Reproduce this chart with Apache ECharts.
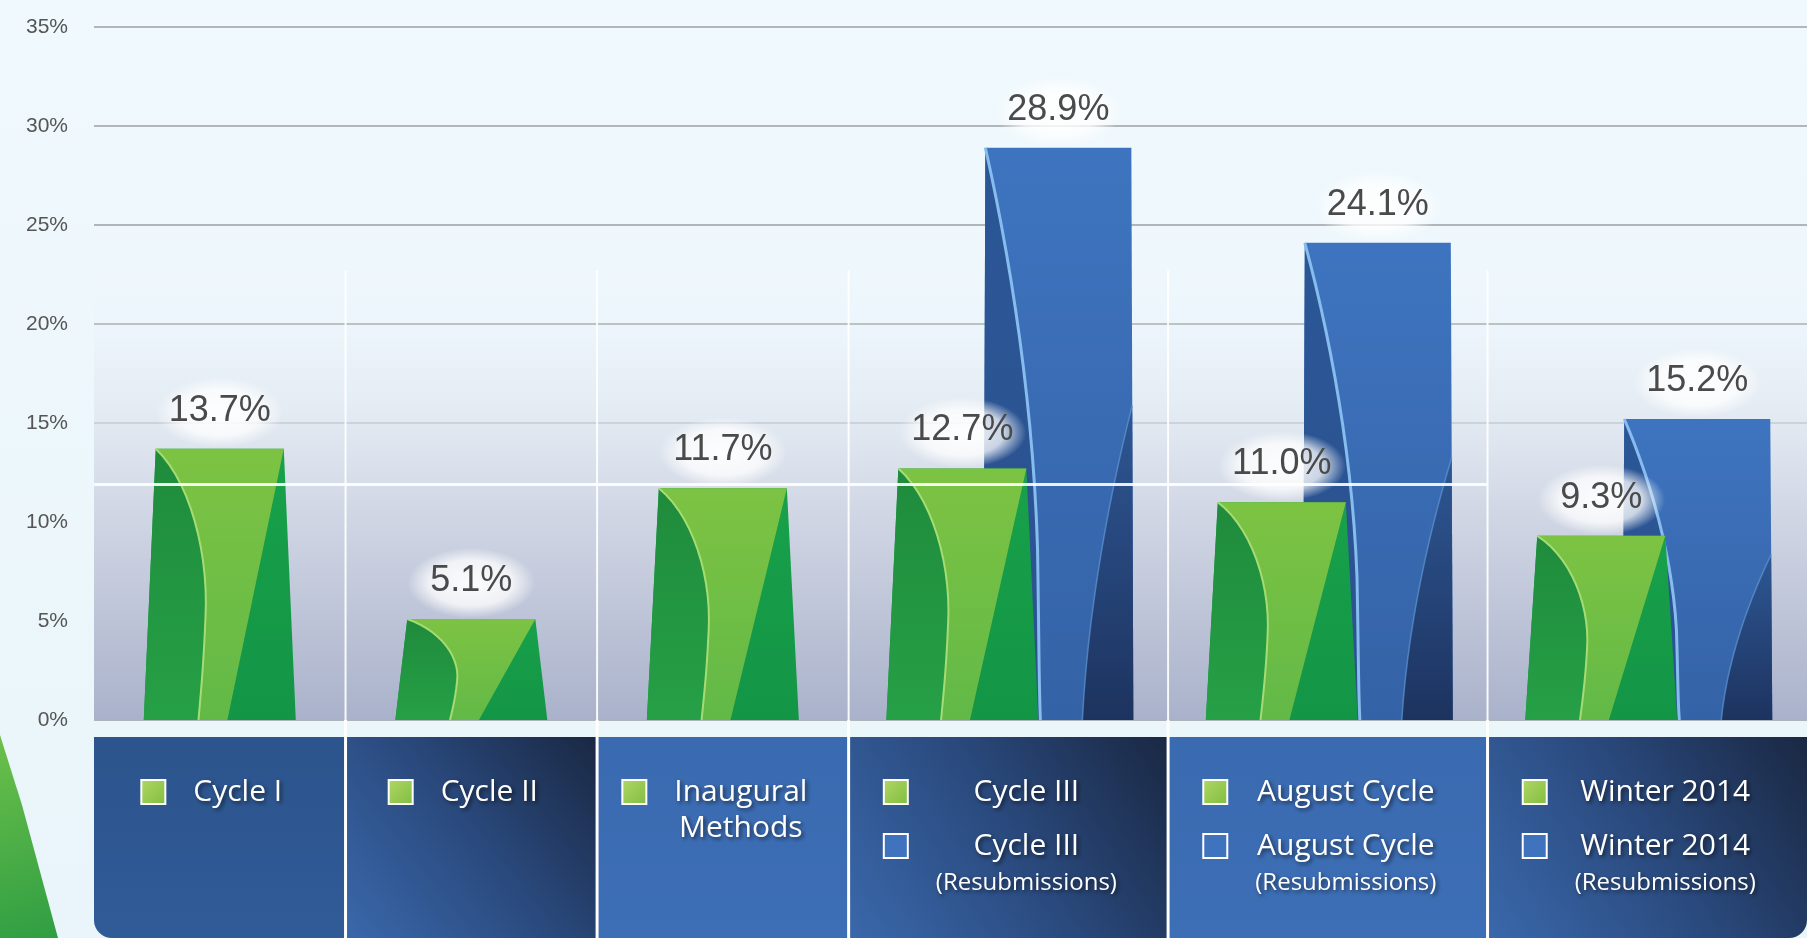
<!DOCTYPE html>
<html lang="en">
<head>
    <meta charset="UTF-8">
    <title>Approval rates by cycle</title>
    <script src="https://cdn.jsdelivr.net/npm/echarts@6/dist/echarts.min.js"></script>
    <style>
        html, body { margin: 0; padding: 0; background: #eef8fc; }
        #main { width: 1807px; height: 938px; }
    </style>
</head>
<body>
<div id="main"></div>
<script type="text/javascript">
    // data
    const categories = ['Cycle I', 'Cycle II', 'Inaugural\nMethods', 'Cycle III', 'August Cycle', 'Winter 2014'];
    const initialRates = [13.7, 5.1, 11.7, 12.7, 11.0, 9.3];
    const resubRates = [null, null, null, 28.9, 24.1, 15.2];
    const resubNote = '(Resubmissions)';
    const yMax = 35;
    const yStep = 5;

    // groups with a resubmission bar get a wider column
    let groupW = categories.map((c, i) => resubRates[i] == null ? 1 : 1.27);
    let groupStart = [];
    let acc = 0;
    groupW.forEach((w) => { groupStart.push(acc); acc += w; });
    let totalW = acc;
    let lastIdx = categories.length - 1;

    let mainFont = '30px "Open Sans", sans-serif';
    let smallFont = '24px "Open Sans", sans-serif';
    let labelFont = '36px "Liberation Sans", Arial, sans-serif';

    let measureCtx = document.createElement('canvas').getContext('2d');
    function textWidth(t, font) {
        measureCtx.font = font;
        return measureCtx.measureText(t).width;
    }

    function lin(x, y, x2, y2, stops) {
        return new echarts.graphic.LinearGradient(x, y, x2, y2, stops.map((c, k) => ({offset: k / (stops.length - 1), color: c})));
    }

    // sample a cubic bezier in (u, v) bar space
    function bez(p0, p1, p2, p3, n) {
        let pts = [];
        for (let k = 0; k <= n; k++) {
            let t = k / n, s = 1 - t;
            pts.push([
                s * s * s * p0[0] + 3 * s * s * t * p1[0] + 3 * s * t * t * p2[0] + t * t * t * p3[0],
                s * s * s * p0[1] + 3 * s * s * t * p1[1] + 3 * s * t * t * p2[1] + t * t * t * p3[1]
            ]);
        }
        return pts;
    }

    // maps (u, v) inside a trapezoid bar to pixels
    function mapper(cx, top, base, wt, wb) {
        let h = base - top;
        return function (p) {
            let w = wt + (wb - wt) * p[1];
            return [cx - w / 2 + p[0] * w, top + p[1] * h];
        };
    }

    let curveGreen = bez([0, 0], [0.28, 0.12], [0.42, 0.38], [0.40, 0.62], 14)
        .concat(bez([0.40, 0.62], [0.39, 0.8], [0.37, 0.92], [0.36, 1], 8).slice(1));
    let curveBlue = bez([0, 0], [0.18, 0.2], [0.33, 0.45], [0.36, 0.7], 14)
        .concat(bez([0.36, 0.7], [0.37, 0.85], [0.37, 0.93], [0.38, 1], 8).slice(1));
    let curveNavy = bez([1, 0.45], [0.85, 0.6], [0.7, 0.8], [0.66, 1], 14);

    function groupCenter(i, api) {
        return api.coord([groupStart[i] + groupW[i] / 2, 0])[0];
    }

    function valueLabel(cx, top, v) {
        return [
            {
                type: 'circle', x: cx, y: top - 36, scaleY: 0.55,
                shape: {cx: 0, cy: 0, r: 64},
                style: {
                    fill: new echarts.graphic.RadialGradient(0.5, 0.5, 0.5, [
                        {offset: 0, color: 'rgba(255,255,255,0.95)'},
                        {offset: 0.65, color: 'rgba(255,255,255,0.75)'},
                        {offset: 1, color: 'rgba(255,255,255,0)'}
                    ])
                }
            },
            {
                type: 'text',
                style: {
                    text: v.toFixed(1) + '%', x: cx, y: top - 38,
                    textAlign: 'center', textVerticalAlign: 'middle',
                    font: labelFont, fill: '#4a4a4a'
                }
            }
        ];
    }

    function renderGreen(params, api) {
        let i = api.value(0);
        let v = api.value(1);
        let cx = groupCenter(i, api) + (resubRates[i] == null ? 0 : -46);
        let top = api.coord([0, v])[1];
        let base = api.coord([0, 0])[1];
        let m = mapper(cx, top, base, 128, 152);
        let leftDark = [[0, 1]].concat(curveGreen);
        let light = [[1, 0], [0.55, 1]].concat(curveGreen.slice().reverse());
        let children = [
            {type: 'polygon', shape: {points: [[0, 0], [1, 0], [1, 1], [0, 1]].map(m)}, style: {fill: lin(0, 0, 0, 1, ['#18a14a', '#139546'])}},
            {type: 'polygon', shape: {points: leftDark.map(m)}, style: {fill: lin(0, 0, 0, 1, ['#1f8b3c', '#26a046'])}},
            {type: 'polygon', shape: {points: light.map(m)}, style: {fill: lin(0, 0, 0, 1, ['#7dc343', '#62b947'])}},
            {type: 'polyline', shape: {points: curveGreen.map(m)}, style: {stroke: '#a6dc73', lineWidth: 2, fill: null}}
        ];
        return {type: 'group', children: children.concat(valueLabel(cx, top, v))};
    }

    function renderBlue(params, api) {
        let i = api.value(0);
        let v = api.value(1);
        let cx = groupCenter(i, api) + 50;
        let top = api.coord([0, v])[1];
        let base = api.coord([0, 0])[1];
        let m = mapper(cx, top, base, 146, 150);
        let leftDark = [[0, 1]].concat(curveBlue);
        let navy = curveNavy.concat([[1, 1]]);
        let children = [
            {type: 'polygon', shape: {points: [[0, 0], [1, 0], [1, 1], [0, 1]].map(m)}, style: {fill: lin(0, 0, 0, 1, ['#3e74bf', '#3462a6'])}},
            {type: 'polygon', shape: {points: leftDark.map(m)}, style: {fill: lin(0, 0, 0, 1, ['#2b5796', '#2c5190'])}},
            {type: 'polygon', shape: {points: navy.map(m)}, style: {fill: lin(0, 0, 0, 1, ['#2e5794', '#1d335f'])}},
            {type: 'polyline', shape: {points: curveBlue.map(m)}, style: {stroke: '#86bcee', lineWidth: 3, fill: null}},
            {type: 'polyline', shape: {points: curveNavy.map(m)}, style: {stroke: '#5f95d2', lineWidth: 1.5, fill: null, opacity: 0.7}}
        ];
        return {type: 'group', children: children.concat(valueLabel(cx, top, v))};
    }

    function legendSquare(x, y, green) {
        return {
            type: 'rect', shape: {x: x, y: y - 12, width: 24, height: 24},
            style: {
                fill: green ? lin(0, 0, 1, 1, ['#b2d766', '#7fbd3f']) : '#3f73be',
                stroke: '#ffffff', lineWidth: 2
            }
        };
    }

    function legendText(t, x, y, font) {
        return {
            type: 'text',
            style: {
                text: t, x: x, y: y, textAlign: 'center', textVerticalAlign: 'middle',
                font: font, fill: '#ffffff',
                textShadowColor: 'rgba(0,0,0,0.6)', textShadowBlur: 4, textShadowOffsetX: 2, textShadowOffsetY: 2
            }
        };
    }

    // column shading, bottom panels, separators and the legend texts
    function renderPanel(params, api) {
        let i = api.value(0);
        let x0 = api.coord([groupStart[i], 0])[0];
        let x1 = api.coord([groupStart[i] + groupW[i], 0])[0];
        let base = api.coord([0, 0])[1];
        let shadeTop = api.coord([0, 22.4])[1];
        let H = api.getHeight();
        let right = i === lastIdx ? api.getWidth() : x1;
        let panelTop = base + 17;
        let panelFill;
        if (i % 2 === 1) {
            panelFill = lin(1, 0, 0, 1, ['#1a2843', '#2a4a7e', '#3a68ab']);
        } else if (i === 0) {
            panelFill = lin(0, 0, 0, 1, ['#2c548d', '#305b97']);
        } else {
            panelFill = lin(0, 0, 0, 1, ['#3a6ab0', '#3d6fb6']);
        }
        let children = [
            {type: 'rect', shape: {x: x0, y: shadeTop, width: x1 - x0, height: base - shadeTop},
                style: {fill: lin(0, 0, 0, 1, ['rgba(236,242,249,0)', '#d3d9e6', '#aab2cb'])}},
            {type: 'rect', shape: {x: x0, y: panelTop, width: right - x0, height: H - panelTop,
                    r: [0, 0, i === lastIdx ? 18 : 0, i === 0 ? 18 : 0]},
                style: {fill: panelFill}}
        ];
        if (i > 0) {
            children.push({type: 'line', shape: {x1: x0, y1: shadeTop - 6, x2: x0, y2: base}, style: {stroke: 'rgba(255,255,255,0.9)', lineWidth: 2}});
            children.push({type: 'line', shape: {x1: x0, y1: base, x2: x0, y2: H}, style: {stroke: '#ffffff', lineWidth: 3}});
        }

        let lines = categories[i].split('\n');
        let hasResub = resubRates[i] != null;
        let tw = Math.max.apply(null, lines.map((t) => textWidth(t, mainFont)));
        if (hasResub) tw = Math.max(tw, textWidth(resubNote, smallFont));
        let blockW = 24 + 28 + tw;
        let blockLeft = (x0 + x1) / 2 - blockW / 2 - 8;
        let tx = blockLeft + 52 + tw / 2;
        let row1 = base + 72;
        children.push(legendSquare(blockLeft, row1, true));
        lines.forEach((t, k) => children.push(legendText(t, tx, row1 + k * 36, mainFont)));
        if (hasResub) {
            let row2 = base + 126;
            children.push(legendSquare(blockLeft, row2, false));
            children.push(legendText(categories[i], tx, row2, mainFont));
            children.push(legendText(resubNote, tx, base + 163, smallFont));
        }
        return {type: 'group', children: children};
    }

    let myChart = echarts.init(document.getElementById('main'));
    let option = {
        animation: false,
        backgroundColor: lin(0, 0, 0, 1, ['#f0f9fd', '#e9f5fa']),
        grid: {left: 94, right: 0, top: 27, bottom: 218},
        xAxis: {type: 'value', min: 0, max: totalW, show: false},
        yAxis: {
            type: 'value', min: 0, max: yMax, interval: yStep,
            axisLine: {show: false}, axisTick: {show: false},
            axisLabel: {formatter: '{value}%', margin: 26, color: '#555', fontSize: 21, fontFamily: 'Liberation Sans'},
            splitLine: {lineStyle: {color: 'rgba(110,110,110,0.65)', width: 1.5}}
        },
        graphic: [{
            type: 'polygon', z: 0,
            shape: {points: [[0, 735], [22, 805], [58, 938], [0, 938]]},
            style: {fill: lin(0, 0, 1, 1, ['#6cc04a', '#2f9e43'])}
        }],
        series: [
            {
                type: 'custom', z: 1, silent: true,
                data: categories.map((c, i) => [i]),
                renderItem: renderPanel
            },
            {
                type: 'custom', z: 3,
                data: resubRates.map((v, i) => [i, v]).filter((d) => d[1] != null),
                renderItem: renderBlue
            },
            {
                type: 'custom', z: 4,
                data: initialRates.map((v, i) => [i, v]),
                renderItem: renderGreen
            },
            {
                type: 'custom', z: 6, data: [], renderItem: () => null,
                markLine: {
                    silent: true, symbol: ['none', 'none'], label: {show: false},
                    lineStyle: {color: '#ffffff', width: 3, type: 'solid', opacity: 0.9},
                    data: [[{coord: [0, 11.9]}, {coord: [groupStart[lastIdx], 11.9]}]]
                }
            }
        ]
    };
    myChart.setOption(option);
</script>
</body>
</html>
